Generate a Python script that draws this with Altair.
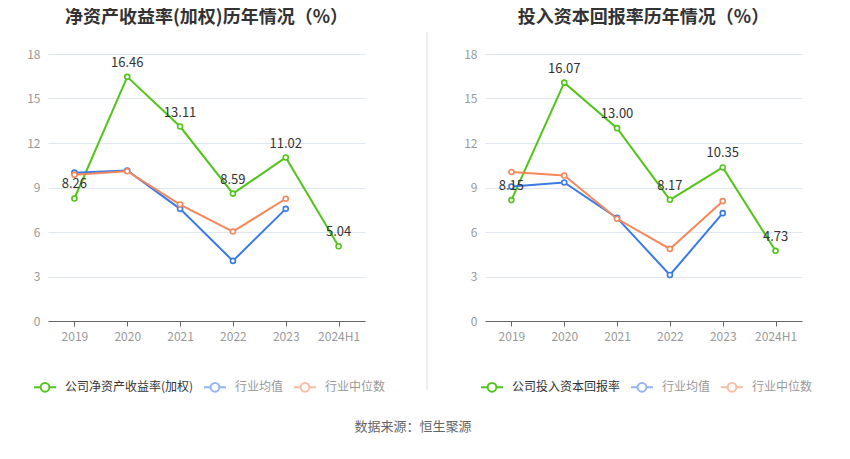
import altair as alt
import pandas as pd

years = ["2019", "2020", "2021", "2022", "2023", "2024H1"]

roe_company = [8.26, 16.46, 13.11, 8.59, 11.02, 5.04]
roe_avg = [10.0, 10.15, 7.56, 4.05, 7.56]
roe_median = [9.86, 10.1, 7.85, 6.03, 8.24]

roic_company = [8.15, 16.07, 13.00, 8.17, 10.35, 4.73]
roic_avg = [9.07, 9.34, 6.95, 3.1, 7.27]
roic_median = [10.04, 9.81, 6.89, 4.86, 8.08]

left_title = "净资产收益率(加权)历年情况（%）"
right_title = "投入资本回报率历年情况（%）"
left_company = "公司净资产收益率(加权)"
right_company = "公司投入资本回报率"
avg_name = "行业均值"
median_name = "行业中位数"
source_text = "数据来源：恒生聚源"

GREEN = "#52c41a"
BLUE = "#3a7ae6"
ORANGE = "#f5875a"

FONT = "Noto Sans CJK SC"
SYMBOL = "M-1,0L-0.4,0M0.4,0L1,0M-0.4,0A0.4,0.4,0,1,1,0.4,0A0.4,0.4,0,1,1,-0.4,0Z"


def make_df(company_name, company, avg, median):
    rows = []
    for y, v in zip(years, company):
        rows.append({"year": y, "series": company_name, "value": v, "label": f"{v:.2f}"})
    for y, v in zip(years, avg):
        rows.append({"year": y, "series": avg_name, "value": v, "label": ""})
    for y, v in zip(years, median):
        rows.append({"year": y, "series": median_name, "value": v, "label": ""})
    return pd.DataFrame(rows)


def panel(title, company_name, company, avg, median, sep_x, sep_opacity, legend_x):
    df = make_df(company_name, company, avg, median)
    domain = [company_name, avg_name, median_name]
    color = alt.Color(
        "series:N",
        scale=alt.Scale(domain=domain, range=[GREEN, BLUE, ORANGE]),
        legend=alt.Legend(
            title=None,
            orient="none",
            legendX=legend_x,
            legendY=321,
            direction="horizontal",
            padding=0,
            symbolType=SYMBOL,
            symbolSize=484,
            symbolStrokeWidth=2,
            symbolFillColor="white",
            symbolOpacity=alt.ExprRef("datum.index === 0 ? 1 : 0.55"),
            labelColor=alt.ExprRef("datum.index === 0 ? '#333333' : '#999999'"),
            labelFontSize=12,
            labelFont=FONT,
            labelOffset=8,
            columnPadding=6,
            symbolOffset=0,
        ),
    )
    x = alt.X(
        "year:O",
        sort=years,
        scale=alt.Scale(domain=years),
        axis=alt.Axis(
            title=None,
            labelAngle=0,
            labelColor="#999999",
            labelFontSize=12,
            labelPadding=5,
            domainColor="#666666",
            tickColor="#666666",
            tickSize=5,
            grid=False,
        ),
    )
    y = alt.Y(
        "value:Q",
        scale=alt.Scale(domain=[0, 18], nice=False),
        axis=alt.Axis(
            title=None,
            values=[0, 3, 6, 9, 12, 15, 18],
            labelColor="#999999",
            labelFontSize=12,
            labelPadding=8,
            domain=False,
            ticks=False,
            gridColor="#e0e6f1",
            minExtent=35,
            maxExtent=35,
        ),
    )
    base = alt.Chart(df)
    sep = base.mark_rule(color="#eeeeee", strokeWidth=1, clip=False, opacity=sep_opacity).encode(
        x=alt.value(sep_x), y=alt.value(-22), y2=alt.value(336)
    )
    lines = base.mark_line(strokeWidth=2).encode(x=x, y=y, color=color)
    points = base.mark_point(filled=False, fill="white", size=25, strokeWidth=1.6, opacity=1).encode(
        x=x, y=y, color=color
    )
    labels = (
        base.transform_filter(alt.datum.series == company_name)
        .mark_text(dy=-14, fontSize=13, color="#333333", font=FONT)
        .encode(x=x, y=y, text="label:N")
    )
    return alt.layer(sep, lines, points, labels).properties(
        width=317,
        height=267,
        view=alt.ViewBackground(stroke="transparent", strokeWidth=0),
        title=alt.TitleParams(
            title, fontSize=18, fontWeight="bold", color="#333333", font=FONT, offset=5, anchor="middle"
        ),
    )


left = panel(left_title, left_company, roe_company, roe_avg, roe_median, 379, 1, -15)
right = panel(right_title, right_company, roic_company, roic_avg, roic_median, 150, 0, -5)

chart = (
    alt.hconcat(left, right, spacing=22)
    .resolve_scale(color="independent")
    .resolve_legend(color="independent")
    .properties(
        padding={"left": 5, "top": 0, "right": 5, "bottom": 0},
        title=alt.TitleParams(
            source_text, orient="bottom", anchor="middle", fontSize=13, fontWeight="normal",
            color="#666666", font=FONT, offset=25
        ),
    )
    .configure_view(stroke="transparent", strokeWidth=0)
    .configure(font=FONT, background="white")
)

chart.save("out.html", embed_options={"renderer": "svg", "actions": False})
